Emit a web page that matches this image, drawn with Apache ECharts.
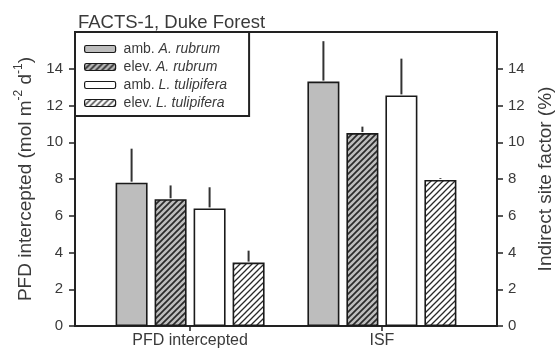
<!DOCTYPE html>
<html>
<head>
<meta charset="utf-8">
<script src="https://cdn.jsdelivr.net/npm/echarts@6/dist/echarts.min.js"></script>
<style>
html,body{margin:0;padding:0;background:#fff;}
#c{width:557px;height:356px;}
</style>
</head>
<body>
<div id="c"></div>
<script>
// ---- data ----
const groups = ['PFD intercepted', 'ISF'];
const groupPos = [1, 2];
const seriesNames = ['amb. A. rubrum', 'elev. A. rubrum', 'amb. L. tulipifera', 'elev. L. tulipifera'];
const ambRubrum = [7.8, 13.3];
const elevRubrum = [6.9, 10.5];
const ambTulip = [6.4, 12.55];
const elevTulip = [3.45, 7.95];
const ambRubrumErr = [9.65, 15.5];
const elevRubrumErr = [7.65, 10.85];
const ambTulipErr = [7.55, 14.55];
const elevTulipErr = [4.1, 8.05];
const yTicks = [0, 2, 4, 6, 8, 10, 12, 14];

const FONT = 'Liberation Sans, Arial, sans-serif';
const TXT = '#3a3a3a';
const LINE = '#222';
const BAR_W = 32;
const BAR_GAP = 7;

function hatch(bg, fg, lw) {
  const s = 6;
  const c = document.createElement('canvas');
  c.width = s; c.height = s;
  const g = c.getContext('2d');
  g.fillStyle = bg; g.fillRect(0, 0, s, s);
  g.strokeStyle = fg; g.lineWidth = lw;
  g.beginPath();
  g.moveTo(-1, s + 1); g.lineTo(s + 1, -1);
  g.moveTo(-1, 1); g.lineTo(1, -1);
  g.moveTo(s - 1, s + 1); g.lineTo(s + 1, s - 1);
  g.stroke();
  return { image: c, repeat: 'repeat' };
}

const fills = [
  '#bdbdbd',
  hatch('#bdbdbd', '#2a2a2a', 1.7),
  '#ffffff',
  hatch('#ffffff', '#2a2a2a', 1.3)
];
const vals = [ambRubrum, elevRubrum, ambTulip, elevTulip];
const errs = [ambRubrumErr, elevRubrumErr, ambTulipErr, elevTulipErr];

const barSeries = vals.map((v, i) => ({
  type: 'bar',
  name: seriesNames[i],
  data: groupPos.map((p, j) => [p, v[j]]),
  barWidth: BAR_W,
  barGap: (BAR_GAP / BAR_W * 100) + '%',
  itemStyle: { color: fills[i], borderColor: '#1a1a1a', borderWidth: 1.6 },
  z: 2
}));

const errData = [];
errs.forEach((e, i) => {
  groupPos.forEach((p, j) => errData.push([p, vals[i][j], e[j], i]));
});

const errSeries = {
  type: 'custom',
  name: 'err',
  data: errData,
  z: 3,
  renderItem: function (params, api) {
    const x = api.value(0), lo = api.value(1), hi = api.value(2), idx = api.value(3);
    const p0 = api.coord([x, lo]);
    const p1 = api.coord([x, hi]);
    const off = (idx - 1.5) * (BAR_W + BAR_GAP);
    return {
      type: 'line',
      shape: { x1: p0[0] + off, y1: p0[1] - 1, x2: p0[0] + off, y2: p1[1] },
      style: { stroke: '#333', lineWidth: 2 }
    };
  }
};

const chart = echarts.init(document.getElementById('c'), null, { renderer: 'canvas' });
chart.setOption({
  animation: false,
  backgroundColor: '#fff',
  textStyle: { fontFamily: FONT },
  title: {
    text: 'FACTS-1, Duke Forest',
    left: 73, top: 8,
    textStyle: { fontFamily: FONT, fontSize: 18.5, fontWeight: 'normal', color: TXT }
  },
  grid: {
    left: 75, right: 60, top: 32, bottom: 30,
    containLabel: false, outerBoundsMode: 'none',
    show: true, borderColor: LINE, borderWidth: 2, backgroundColor: 'transparent'
  },
  legend: {
    data: seriesNames,
    orient: 'vertical',
    left: 75, top: 32,
    backgroundColor: '#fff',
    borderColor: LINE, borderWidth: 2, borderRadius: 0,
    padding: [10, 22, 6, 9],
    itemWidth: 31, itemHeight: 7,
    itemGap: 4,
    itemStyle: { borderColor: '#1a1a1a', borderWidth: 1.2 },
    formatter: function (n) {
      const k = n.indexOf('. ');
      return '{n|' + n.slice(0, k + 2) + '}{i|' + n.slice(k + 2) + '}';
    },
    textStyle: {
      color: TXT, fontFamily: FONT, fontSize: 14, padding: [0, 0, 0, 3],
      rich: {
        n: { fontFamily: FONT, fontSize: 14, color: TXT, lineHeight: 14 },
        i: { fontFamily: FONT, fontSize: 14, color: TXT, fontStyle: 'italic', lineHeight: 14 }
      }
    },
    z: 10
  },
  xAxis: {
    type: 'value', min: 0.4, max: 2.6,
    splitLine: { show: false },
    axisLine: { show: true, onZero: false, lineStyle: { color: LINE, width: 2 } },
    axisTick: { show: true, customValues: groupPos, length: 5, lineStyle: { color: LINE, width: 1.5 } },
    axisLabel: {
      customValues: groupPos,
      formatter: function (v) { const i = groupPos.indexOf(v); return i >= 0 ? groups[i] : ''; },
      color: TXT, fontSize: 16, fontFamily: FONT, margin: 7
    }
  },
  yAxis: [
    {
      type: 'value', min: 0, max: 16, interval: 2, position: 'left',
      splitLine: { show: false },
      axisLine: { show: true, lineStyle: { color: LINE, width: 2 } },
      axisTick: { show: true, customValues: yTicks, length: 6, lineStyle: { color: LINE, width: 1.5 } },
      axisLabel: { customValues: yTicks, color: TXT, fontSize: 15, fontFamily: FONT, margin: 12 },
      name: '{a|PFD intercepted (mol m}{s|-2}{a| d}{s|-1}{a|)}',
      nameLocation: 'middle', nameRotate: 90, nameGap: 40,
      nameTextStyle: {
        rich: {
          a: { fontFamily: FONT, fontSize: 19, color: TXT, lineHeight: 22, verticalAlign: 'bottom' },
          s: { fontFamily: FONT, fontSize: 12, color: TXT, lineHeight: 22, verticalAlign: 'top' }
        }
      }
    },
    {
      type: 'value', min: 0, max: 16, interval: 2, position: 'right',
      splitLine: { show: false },
      axisLine: { show: true, lineStyle: { color: LINE, width: 2 } },
      axisTick: { show: true, customValues: yTicks, length: 6, lineStyle: { color: LINE, width: 1.5 } },
      axisLabel: { customValues: yTicks, color: TXT, fontSize: 15, fontFamily: FONT, margin: 11 },
      name: 'Indirect site factor (%)',
      nameLocation: 'middle', nameRotate: 90, nameGap: 39,
      nameTextStyle: { fontFamily: FONT, fontSize: 19, color: TXT }
    }
  ],
  series: barSeries.concat([errSeries])
});
</script>
</body>
</html>
